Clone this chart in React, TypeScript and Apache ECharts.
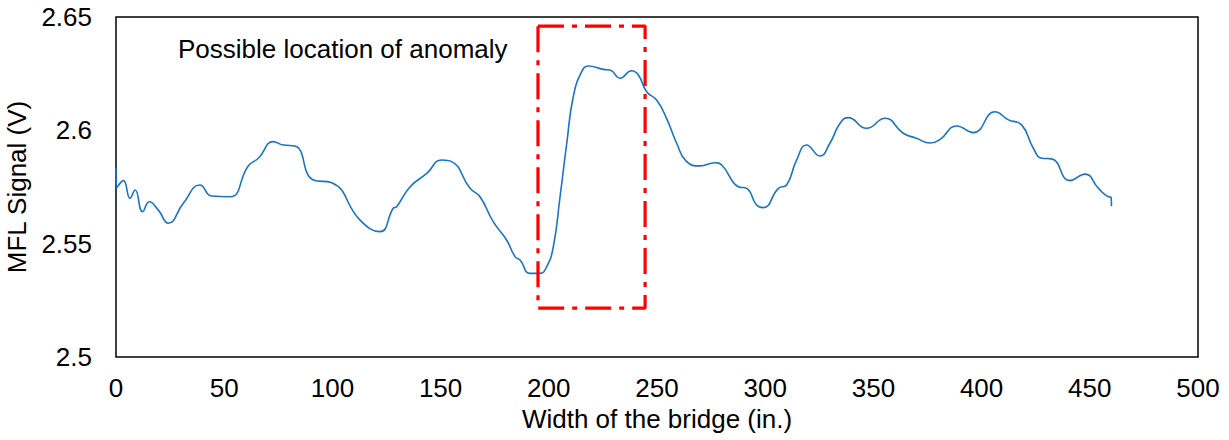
import React, { useEffect, useRef } from "react";
import * as echarts from "echarts";

const widthIn: number[] = [
  0, 0.3, 3.4, 6.5, 8.8, 12.3, 15.4, 19.5, 24.2, 31.1, 38.8, 44.2, 52.7, 61.1, 65.8,
  72.7, 77.3, 82.7, 91.2, 99.7, 112.8, 122, 128.1, 129.7, 135.9, 143.6, 150.5, 155.1,
  163.6, 168.2, 174.3, 180.5, 184.4, 186.7, 191.3, 195.9, 199, 202.1, 205.2, 208.3,
  211.3, 215.2, 218.3, 225.2, 228.3, 232.9, 238.3, 241.4, 245.2, 249.8, 254.4, 259.1,
  263.7, 269.9, 276.8, 279.9, 287.6, 291.4, 296, 299.1, 306.1, 309.9, 314.5, 319.1,
  325.3, 329.9, 334.6, 338.4, 346.8, 355.4, 363.8, 369.9, 376.2, 380.8, 388.5, 396.2,
  406.2, 412.4, 418.5, 423.9, 427.8, 432.4, 440.8, 447.8, 454, 458.6, 459.8, 460,
];
const mflSignal: number[] = [
  2.5835, 2.5746, 2.5778, 2.57, 2.5737, 2.5641, 2.5685, 2.5649, 2.559, 2.5678, 2.5759,
  2.571, 2.5707, 2.5843, 2.5877, 2.595, 2.5935, 2.5931, 2.5781, 2.5769, 2.5604, 2.5553,
  2.5656, 2.5663, 2.5751, 2.581, 2.5869, 2.5862, 2.5744, 2.5707, 2.5597, 2.5516, 2.5443,
  2.5428, 2.5369, 2.5369, 2.5398, 2.5487, 2.5707, 2.5943, 2.6148, 2.6259, 2.6284, 2.6269,
  2.6266, 2.623, 2.6263, 2.6244, 2.617, 2.6134, 2.6053, 2.5943, 2.5862, 2.5843, 2.5857,
  2.5847, 2.5751, 2.5744, 2.5671, 2.5659, 2.5744, 2.5759, 2.5869, 2.5935, 2.5887, 2.5943,
  2.6031, 2.6056, 2.6009, 2.6053, 2.5987, 2.5965, 2.5944, 2.596, 2.6019, 2.599, 2.6082,
  2.6046, 2.6024, 2.5921, 2.5877, 2.5874, 2.5778, 2.5807, 2.5744, 2.5707, 2.5705, 2.5665,
];
// Anomaly box (data coordinates)
const boxX: number[] = [195, 244.5, 244.5, 195, 195];
const boxY: number[] = [2.646, 2.646, 2.5216, 2.5216, 2.646];
const annotation = "Possible location of anomaly";
const xTitle = "Width of the bridge (in.)";
const yTitle = "MFL Signal (V)";

const FONT = "'Liberation Sans', Arial, sans-serif";
const FS = 26;

export default function App() {
  const ref = useRef<HTMLDivElement>(null);
  useEffect(() => {
    if (!ref.current) return;
    const chart = echarts.init(ref.current, undefined, { renderer: "svg" });
    const lineData = widthIn.map((x, i) => [x, mflSignal[i]]);
    const boxData = boxX.map((x, i) => [x, boxY[i]]);
    chart.setOption({
      animation: false,
      backgroundColor: "#ffffff",
      textStyle: { fontFamily: FONT },
      grid: {
        left: 116,
        right: 31,
        top: 17,
        bottom: 83,
        outerBoundsMode: "none",
        containLabel: false,
        show: true,
        borderColor: "#000000",
        borderWidth: 1.5,
      },
      xAxis: {
        type: "value",
        min: 0,
        max: 500,
        interval: 50,
        name: xTitle,
        nameLocation: "middle",
        nameGap: 47,
        nameTextStyle: { fontSize: FS, color: "#000", fontFamily: FONT },
        axisLine: { show: false },
        axisTick: { show: false },
        splitLine: { show: false },
        axisLabel: { fontSize: FS, color: "#000", margin: 18, fontFamily: FONT },
      },
      yAxis: {
        type: "value",
        min: 2.5,
        max: 2.65,
        interval: 0.05,
        name: yTitle,
        nameLocation: "middle",
        nameGap: 81,
        nameRotate: 90,
        nameTextStyle: { fontSize: FS, color: "#000", fontFamily: FONT },
        axisLine: { show: false },
        axisTick: { show: false },
        splitLine: { show: false },
        axisLabel: {
          fontSize: FS,
          color: "#000",
          margin: 24,
          fontFamily: FONT,
          formatter: (v: number) => String(parseFloat(v.toFixed(2))),
        },
      },
      series: [
        {
          type: "line",
          data: lineData,
          showSymbol: false,
          smooth: 0.5,
          lineStyle: { color: "#1874c4", width: 1.6 },
          silent: true,
        },
        {
          type: "line",
          data: boxData,
          showSymbol: false,
          lineStyle: { color: "#ff0000", width: 3.2, type: [26, 8, 5, 8] },
          silent: true,
        },
      ],
      graphic: [
        {
          type: "text",
          left: 178,
          top: 36,
          style: { text: annotation, fontSize: FS, fill: "#000", fontFamily: FONT },
        },
      ],
    });
    return () => chart.dispose();
  }, []);
  return (
    <div
      ref={ref}
      style={{ position: "fixed", left: 0, top: 0, width: 1229, height: 440, background: "#fff" }}
    />
  );
}
